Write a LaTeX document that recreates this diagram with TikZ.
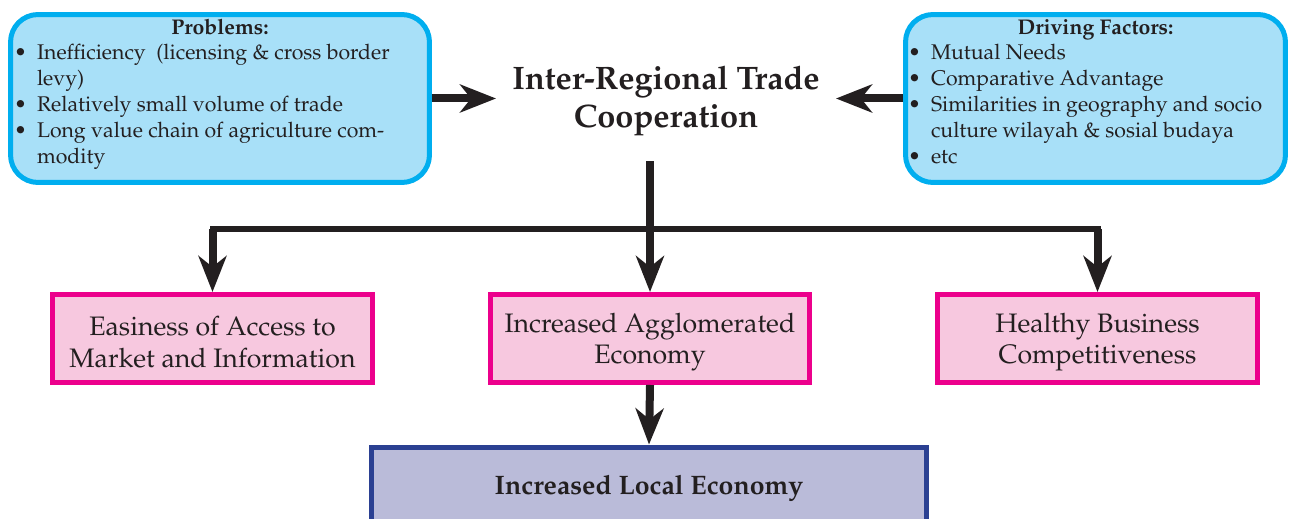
\documentclass[tikz,border=0pt]{standalone}
\usepackage[T1]{fontenc}
\usepackage{mathpazo}
\usepackage{array}
\usetikzlibrary{arrows.meta,positioning}

\definecolor{cyanline}{RGB}{0,174,239}
\definecolor{cyanfill}{RGB}{168,224,248}
\definecolor{magline}{RGB}{236,0,140}
\definecolor{pinkfill}{RGB}{247,200,223}
\definecolor{navyline}{RGB}{43,64,146}
\definecolor{lilacfill}{RGB}{186,187,217}
\definecolor{ink}{RGB}{35,31,32}

\newcommand{\lift}{\rule{0pt}{0.53cm}}

\begin{document}
\begin{tikzpicture}[x=0.02cm,y=-0.02cm,
                    >={Stealth[length=0.72cm,width=0.56cm,inset=0.22cm]},
                    factor/.style={draw=cyanline,fill=cyanfill,line width=0.1cm,
                      rounded corners=0.55cm,inner sep=0pt,text=ink,
                      minimum height=3.36cm,font=\fontsize{12.1}{14.7}\selectfont},
                    effect/.style={draw=magline,fill=pinkfill,line width=0.1cm,
                      minimum width=6.4cm,minimum height=1.76cm,align=center,
                      text=ink,font=\fontsize{15.2}{18}\selectfont},
                    result/.style={draw=navyline,fill=lilacfill,line width=0.1cm,
                      minimum width=11.12cm,minimum height=1.64cm,text=ink,
                      font=\fontsize{15.2}{18}\selectfont\bfseries},
                    flow/.style={->,draw=ink,line width=0.16cm},
                    link/.style={draw=ink,line width=0.12cm,line cap=rect}]
    \useasboundingbox (0,0) rectangle (1290,519);

    % top row
    \node [factor,minimum width=8.38cm] (problems) at (220,98.5) {%
        \begin{tabular}{@{}p{0.46cm}@{}p{7.78cm}@{}}
            \multicolumn{2}{@{}c@{}}{\bfseries Problems:}\\
            \textbullet & Inefficiency~~(licensing \& cross border\\
                        & levy)\\
            \textbullet & Relatively small volume of trade\\
            \textbullet & Long value chain of agriculture com-\\
                        & modity\\[0.2cm]
        \end{tabular}};
    \node [factor,minimum width=7.6cm] (drivers) at (1095.5,98.5) {%
        \begin{tabular}{@{}p{0.46cm}@{}p{7.04cm}@{}}
            \multicolumn{2}{@{}c@{}}{\bfseries Driving Factors:}\\
            \textbullet & Mutual Needs\\
            \textbullet & Comparative Advantage\\
            \textbullet & Similarities in geography and socio\\
                        & culture wilayah \& sosial budaya\\
            \textbullet & etc\\[0.2cm]
        \end{tabular}};
    \node [align=center,text=ink,inner xsep=0.32cm,inner ysep=0.5cm,
           font=\fontsize{18.5}{21.8}\selectfont\bfseries]
          (irtc) at (666,101) {Inter-Regional Trade\\Cooperation};

    % middle row
    \node [effect] (easy)    at (212.5,338.5) {\lift Easiness of Access to\\Market and Information};
    \node [effect] (agglo)   at (650,338.5)   {\lift Increased Agglomerated\\Economy};
    \node [effect] (healthy) at (1097.5,338.5) {\lift Healthy Business\\Competitiveness};

    % bottom
    \node [result] (local) at (649,488) {Increased Local Economy};

    \coordinate (split) at (650,229);

    \draw [flow] (problems.east) -- (problems.east -| irtc.west);
    \draw [flow] (drivers.west) -- (drivers.west -| irtc.east);
    \draw [link] (easy.north |- split) -- (healthy.north |- split);
    \draw [flow] (irtc.south -| agglo.north) -- (agglo.north);
    \draw [flow] (easy.north |- split) -- (easy.north);
    \draw [flow] (healthy.north |- split) -- (healthy.north);
    \draw [flow] (agglo.south) -- (local.north);
\end{tikzpicture}
\end{document}
